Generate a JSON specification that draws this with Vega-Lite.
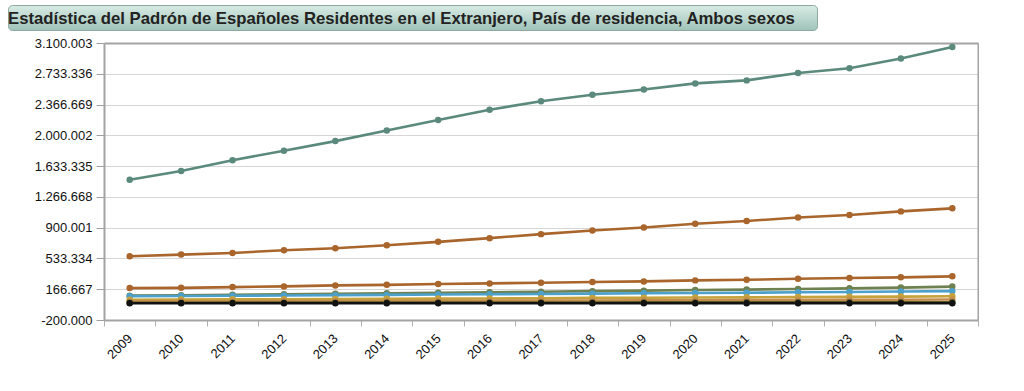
{
  "$schema": "https://vega.github.io/schema/vega-lite/v6.json",
  "padding": {"left": 3, "top": 4, "right": 0, "bottom": 0},
  "background": "white",
  "config": {
    "font": "Liberation Sans",
    "locale": {"number": {"decimal": ",", "thousands": ".", "grouping": [3], "currency": ["", " €"], "minus": "-"}}
  },
  "spacing": 6,
  "datasets": {
    "titulo": [{"t": "Estadística del Padrón de Españoles Residentes en el Extranjero, País de residencia, Ambos sexos"}],
    "serie": [
      {"serie": "Total", "year": "2009", "value": 1471691},
      {"serie": "Total", "year": "2010", "value": 1574123},
      {"serie": "Total", "year": "2011", "value": 1702778},
      {"serie": "Total", "year": "2012", "value": 1816835},
      {"serie": "Total", "year": "2013", "value": 1931248},
      {"serie": "Total", "year": "2014", "value": 2058048},
      {"serie": "Total", "year": "2015", "value": 2183043},
      {"serie": "Total", "year": "2016", "value": 2305030},
      {"serie": "Total", "year": "2017", "value": 2406611},
      {"serie": "Total", "year": "2018", "value": 2482808},
      {"serie": "Total", "year": "2019", "value": 2545729},
      {"serie": "Total", "year": "2020", "value": 2618592},
      {"serie": "Total", "year": "2021", "value": 2654723},
      {"serie": "Total", "year": "2022", "value": 2742589},
      {"serie": "Total", "year": "2023", "value": 2799665},
      {"serie": "Total", "year": "2024", "value": 2915000},
      {"serie": "Total", "year": "2025", "value": 3052000},
      {"serie": "Serie 2", "year": "2009", "value": 560000},
      {"serie": "Serie 2", "year": "2010", "value": 579000},
      {"serie": "Serie 2", "year": "2011", "value": 599000},
      {"serie": "Serie 2", "year": "2012", "value": 631000},
      {"serie": "Serie 2", "year": "2013", "value": 655000},
      {"serie": "Serie 2", "year": "2014", "value": 691000},
      {"serie": "Serie 2", "year": "2015", "value": 731000},
      {"serie": "Serie 2", "year": "2016", "value": 775000},
      {"serie": "Serie 2", "year": "2017", "value": 823000},
      {"serie": "Serie 2", "year": "2018", "value": 866000},
      {"serie": "Serie 2", "year": "2019", "value": 902000},
      {"serie": "Serie 2", "year": "2020", "value": 947000},
      {"serie": "Serie 2", "year": "2021", "value": 979000},
      {"serie": "Serie 2", "year": "2022", "value": 1022000},
      {"serie": "Serie 2", "year": "2023", "value": 1051000},
      {"serie": "Serie 2", "year": "2024", "value": 1094000},
      {"serie": "Serie 2", "year": "2025", "value": 1130000},
      {"serie": "Serie 3", "year": "2009", "value": 180000},
      {"serie": "Serie 3", "year": "2010", "value": 183000},
      {"serie": "Serie 3", "year": "2011", "value": 192000},
      {"serie": "Serie 3", "year": "2012", "value": 200000},
      {"serie": "Serie 3", "year": "2013", "value": 212000},
      {"serie": "Serie 3", "year": "2014", "value": 219000},
      {"serie": "Serie 3", "year": "2015", "value": 228000},
      {"serie": "Serie 3", "year": "2016", "value": 236000},
      {"serie": "Serie 3", "year": "2017", "value": 244000},
      {"serie": "Serie 3", "year": "2018", "value": 252000},
      {"serie": "Serie 3", "year": "2019", "value": 260000},
      {"serie": "Serie 3", "year": "2020", "value": 272000},
      {"serie": "Serie 3", "year": "2021", "value": 279000},
      {"serie": "Serie 3", "year": "2022", "value": 291000},
      {"serie": "Serie 3", "year": "2023", "value": 300000},
      {"serie": "Serie 3", "year": "2024", "value": 308000},
      {"serie": "Serie 3", "year": "2025", "value": 320000},
      {"serie": "Serie 4", "year": "2009", "value": 90000},
      {"serie": "Serie 4", "year": "2010", "value": 95000},
      {"serie": "Serie 4", "year": "2011", "value": 100000},
      {"serie": "Serie 4", "year": "2012", "value": 106000},
      {"serie": "Serie 4", "year": "2013", "value": 112000},
      {"serie": "Serie 4", "year": "2014", "value": 118000},
      {"serie": "Serie 4", "year": "2015", "value": 124000},
      {"serie": "Serie 4", "year": "2016", "value": 131000},
      {"serie": "Serie 4", "year": "2017", "value": 137000},
      {"serie": "Serie 4", "year": "2018", "value": 144000},
      {"serie": "Serie 4", "year": "2019", "value": 150000},
      {"serie": "Serie 4", "year": "2020", "value": 157000},
      {"serie": "Serie 4", "year": "2021", "value": 162000},
      {"serie": "Serie 4", "year": "2022", "value": 170000},
      {"serie": "Serie 4", "year": "2023", "value": 177000},
      {"serie": "Serie 4", "year": "2024", "value": 186000},
      {"serie": "Serie 4", "year": "2025", "value": 198000},
      {"serie": "Serie 5", "year": "2009", "value": 84000},
      {"serie": "Serie 5", "year": "2010", "value": 86000},
      {"serie": "Serie 5", "year": "2011", "value": 89000},
      {"serie": "Serie 5", "year": "2012", "value": 92000},
      {"serie": "Serie 5", "year": "2013", "value": 96000},
      {"serie": "Serie 5", "year": "2014", "value": 99000},
      {"serie": "Serie 5", "year": "2015", "value": 103000},
      {"serie": "Serie 5", "year": "2016", "value": 107000},
      {"serie": "Serie 5", "year": "2017", "value": 110000},
      {"serie": "Serie 5", "year": "2018", "value": 114000},
      {"serie": "Serie 5", "year": "2019", "value": 118000},
      {"serie": "Serie 5", "year": "2020", "value": 122000},
      {"serie": "Serie 5", "year": "2021", "value": 125000},
      {"serie": "Serie 5", "year": "2022", "value": 130000},
      {"serie": "Serie 5", "year": "2023", "value": 134000},
      {"serie": "Serie 5", "year": "2024", "value": 139000},
      {"serie": "Serie 5", "year": "2025", "value": 144000},
      {"serie": "Serie 6", "year": "2009", "value": 42000},
      {"serie": "Serie 6", "year": "2010", "value": 44000},
      {"serie": "Serie 6", "year": "2011", "value": 46000},
      {"serie": "Serie 6", "year": "2012", "value": 48000},
      {"serie": "Serie 6", "year": "2013", "value": 50000},
      {"serie": "Serie 6", "year": "2014", "value": 52000},
      {"serie": "Serie 6", "year": "2015", "value": 55000},
      {"serie": "Serie 6", "year": "2016", "value": 57000},
      {"serie": "Serie 6", "year": "2017", "value": 60000},
      {"serie": "Serie 6", "year": "2018", "value": 63000},
      {"serie": "Serie 6", "year": "2019", "value": 65000},
      {"serie": "Serie 6", "year": "2020", "value": 68000},
      {"serie": "Serie 6", "year": "2021", "value": 70000},
      {"serie": "Serie 6", "year": "2022", "value": 73000},
      {"serie": "Serie 6", "year": "2023", "value": 76000},
      {"serie": "Serie 6", "year": "2024", "value": 79000},
      {"serie": "Serie 6", "year": "2025", "value": 83000},
      {"serie": "Serie 7", "year": "2009", "value": 22000},
      {"serie": "Serie 7", "year": "2010", "value": 23000},
      {"serie": "Serie 7", "year": "2011", "value": 24000},
      {"serie": "Serie 7", "year": "2012", "value": 25000},
      {"serie": "Serie 7", "year": "2013", "value": 26000},
      {"serie": "Serie 7", "year": "2014", "value": 27000},
      {"serie": "Serie 7", "year": "2015", "value": 29000},
      {"serie": "Serie 7", "year": "2016", "value": 30000},
      {"serie": "Serie 7", "year": "2017", "value": 31000},
      {"serie": "Serie 7", "year": "2018", "value": 33000},
      {"serie": "Serie 7", "year": "2019", "value": 34000},
      {"serie": "Serie 7", "year": "2020", "value": 35000},
      {"serie": "Serie 7", "year": "2021", "value": 37000},
      {"serie": "Serie 7", "year": "2022", "value": 38000},
      {"serie": "Serie 7", "year": "2023", "value": 40000},
      {"serie": "Serie 7", "year": "2024", "value": 42000},
      {"serie": "Serie 7", "year": "2025", "value": 44000},
      {"serie": "Serie 8", "year": "2009", "value": 6000},
      {"serie": "Serie 8", "year": "2010", "value": 6200},
      {"serie": "Serie 8", "year": "2011", "value": 6500},
      {"serie": "Serie 8", "year": "2012", "value": 6800},
      {"serie": "Serie 8", "year": "2013", "value": 7100},
      {"serie": "Serie 8", "year": "2014", "value": 7400},
      {"serie": "Serie 8", "year": "2015", "value": 7800},
      {"serie": "Serie 8", "year": "2016", "value": 8200},
      {"serie": "Serie 8", "year": "2017", "value": 8600},
      {"serie": "Serie 8", "year": "2018", "value": 9000},
      {"serie": "Serie 8", "year": "2019", "value": 9400},
      {"serie": "Serie 8", "year": "2020", "value": 9800},
      {"serie": "Serie 8", "year": "2021", "value": 10200},
      {"serie": "Serie 8", "year": "2022", "value": 10700},
      {"serie": "Serie 8", "year": "2023", "value": 11200},
      {"serie": "Serie 8", "year": "2024", "value": 11700},
      {"serie": "Serie 8", "year": "2025", "value": 12300},
      {"serie": "Serie 9", "year": "2009", "value": 0},
      {"serie": "Serie 9", "year": "2010", "value": 0},
      {"serie": "Serie 9", "year": "2011", "value": 0},
      {"serie": "Serie 9", "year": "2012", "value": 0},
      {"serie": "Serie 9", "year": "2013", "value": 0},
      {"serie": "Serie 9", "year": "2014", "value": 0},
      {"serie": "Serie 9", "year": "2015", "value": 0},
      {"serie": "Serie 9", "year": "2016", "value": 0},
      {"serie": "Serie 9", "year": "2017", "value": 0},
      {"serie": "Serie 9", "year": "2018", "value": 0},
      {"serie": "Serie 9", "year": "2019", "value": 0},
      {"serie": "Serie 9", "year": "2020", "value": 0},
      {"serie": "Serie 9", "year": "2021", "value": 0},
      {"serie": "Serie 9", "year": "2022", "value": 0},
      {"serie": "Serie 9", "year": "2023", "value": 0},
      {"serie": "Serie 9", "year": "2024", "value": 0},
      {"serie": "Serie 9", "year": "2025", "value": 0}
    ]
  },
  "vconcat": [
    {
      "width": 809,
      "height": 25,
      "data": {"name": "titulo"},
      "view": {
        "stroke": "#8fa9a2",
        "strokeWidth": 1,
        "cornerRadius": 4,
        "fill": {"gradient": "linear", "x1": 0, "y1": 0, "x2": 0, "y2": 1, "stops": [{"offset": 0, "color": "#d8ebe5"}, {"offset": 1, "color": "#9fc3b8"}]}
      },
      "mark": {"type": "text", "font": "Liberation Sans", "fontSize": 16.7, "fontWeight": "bold", "color": "#222222", "dx": -11, "dy": 1},
      "encoding": {"text": {"field": "t", "type": "nominal"}}
    },
    {
      "width": 970,
      "height": 277,
      "view": {"stroke": null},
      "data": {"name": "serie"},
      "encoding": {
        "x": {
          "field": "year",
          "type": "ordinal",
          "bandPosition": 0.5,
          "scale": {"type": "band", "paddingInner": 0, "paddingOuter": 0, "range": [96, 970]},
          "axis": {
            "title": null,
            "domain": true,
            "domainColor": "#a3a3a3",
            "domainWidth": 2,
            "grid": false,
            "tickBand": "extent",
            "tickColor": "#b0b0b0",
            "tickSize": 6,
            "tickWidth": 1,
            "labelAngle": -45,
            "labelFontSize": 13,
            "labelColor": "#111111",
            "labelPadding": 10,
            "labelAlign": "right",
            "labelBaseline": "middle"
          }
        },
        "y": {
          "field": "value",
          "type": "quantitative",
          "scale": {"domain": [-200000, 3100003], "nice": false, "zero": false},
          "axis": {
            "title": null,
            "offset": -96,
            "domain": true,
            "domainColor": "#a3a3a3",
            "domainWidth": 2,
            "values": [-200000, 166667, 533334, 900001, 1266668, 1633335, 2000002, 2366669, 2733336, 3100003],
            "format": ",d",
            "gridColor": "#d6d6d6",
            "gridWidth": 1,
            "tickColor": "#a0a0a0",
            "tickSize": 8,
            "labelFontSize": 13,
            "labelColor": "#111111",
            "labelPadding": 4
          }
        },
        "color": {
          "field": "serie",
          "type": "nominal",
          "legend": null,
          "scale": {
            "domain": ["Total", "Serie 2", "Serie 3", "Serie 4", "Serie 5", "Serie 6", "Serie 7", "Serie 8", "Serie 9"],
            "range": ["#5b8a7d", "#a9652b", "#a9652b", "#6e8150", "#4ba0cc", "#c6a23a", "#c48d4e", "#5a5a22", "#111111"]
          }
        }
      },
      "layer": [
        {"mark": {"type": "line", "strokeWidth": 2.6}},
        {
          "mark": {"type": "point", "filled": true, "opacity": 1, "size": 42},
          "encoding": {
            "x": {
              "field": "year",
              "type": "ordinal",
              "bandPosition": 0.5,
              "axis": {"orient": "top", "title": null, "labels": false, "ticks": false, "grid": false, "domain": true, "domainColor": "#a3a3a3", "domainWidth": 2}
            },
            "y": {
              "field": "value",
              "type": "quantitative",
              "axis": {"orient": "right", "title": null, "labels": false, "ticks": false, "grid": false, "domain": true, "domainColor": "#a3a3a3", "domainWidth": 2}
            }
          }
        }
      ],
      "resolve": {"axis": {"x": "independent", "y": "independent"}}
    }
  ]
}
